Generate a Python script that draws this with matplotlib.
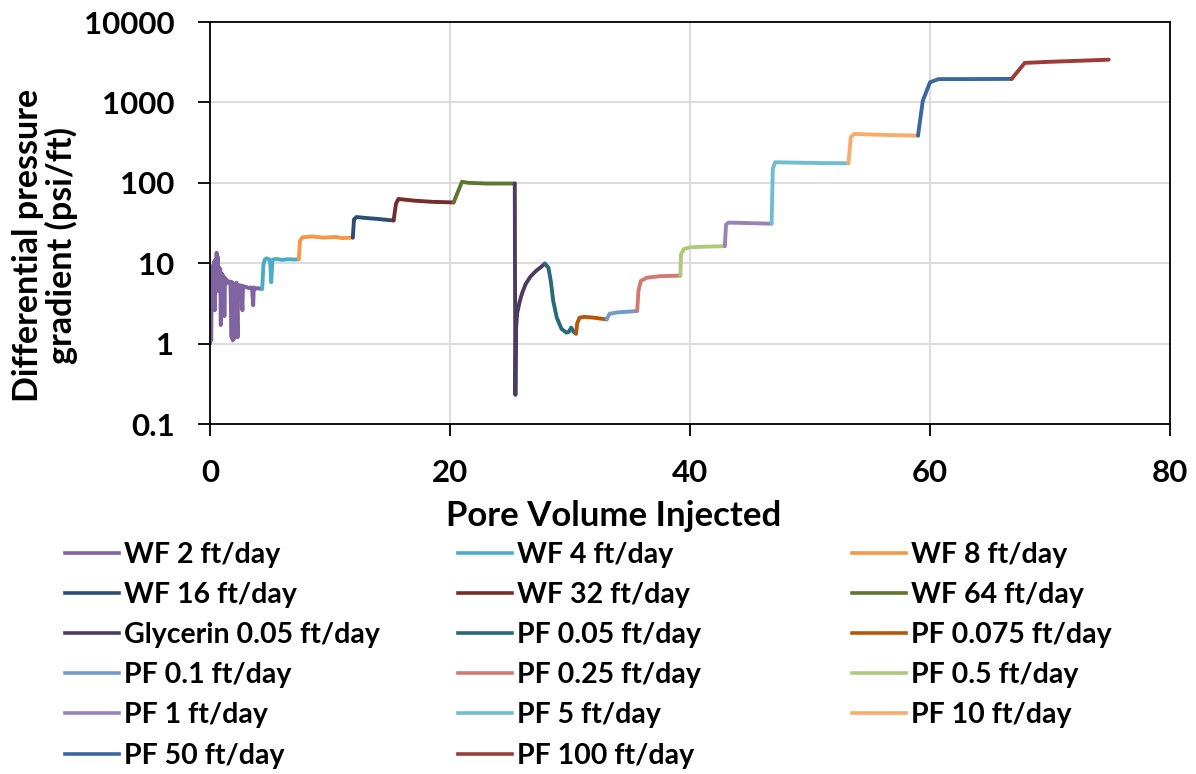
import numpy as np
import matplotlib
matplotlib.use("Agg")
import matplotlib.pyplot as plt
from matplotlib.lines import Line2D

plt.rcParams['font.family'] = ['Lato', 'DejaVu Sans']
plt.rcParams['font.weight'] = 'bold'

# pore volume injected (x) and differential pressure gradient psi/ft (y)
wf2_x = [0.0, 0.05, 0.1, 0.15, 0.2, 0.25, 0.3, 0.35, 0.4, 0.45, 0.5, 0.55, 0.6, 0.65, 0.7,
         0.75, 0.8, 0.85, 0.9, 0.95, 1.0, 1.05, 1.1, 1.15, 1.2, 1.25, 1.3, 1.35, 1.4, 1.5,
         1.6, 1.7, 1.8, 1.85, 1.9, 1.95, 2.0, 2.1, 2.2, 2.3, 2.35, 2.4, 2.5, 2.6, 2.7,
         2.75, 2.8, 2.9, 3.0, 3.2, 3.4, 3.5, 3.6, 3.65, 3.7, 3.8, 4.0, 4.2, 4.35]
wf2_y = [1.0, 2.5, 1.1, 8.5, 4.0, 9.5, 3.0, 10.5, 2.6, 11.0, 7.0, 13.5, 9.0, 12.0, 4.5,
         9.0, 6.0, 8.5, 1.7, 7.5, 6.5, 7.2, 5.0, 6.8, 2.2, 6.5, 5.5, 6.3, 5.8, 6.0,
         5.6, 5.9, 1.2, 5.8, 1.1, 5.6, 1.15, 5.5, 5.7, 1.2, 5.4, 5.3, 5.2, 5.3, 2.6,
         5.1, 5.2, 5.0, 5.1, 4.9, 5.0, 4.8, 3.0, 5.0, 4.9, 4.8, 4.9, 4.8, 4.8]
wf4_x = [4.35, 4.45, 4.55, 4.7, 4.9, 5.0, 5.1, 5.2, 5.3, 5.5, 6.0, 6.5, 7.0, 7.4]
wf4_y = [4.8, 9.5, 11.0, 11.5, 11.2, 11.0, 5.8, 10.8, 11.2, 11.3, 11.0, 11.2, 11.1, 11.2]
wf8_x = [7.4, 7.5, 7.7, 8.5, 9.5, 10.5, 11.0, 11.9]
wf8_y = [11.2, 19.0, 21.0, 21.5, 20.8, 21.2, 20.5, 20.8]
wf16_x = [11.9, 12.0, 12.2, 13.0, 14.0, 14.8, 15.3]
wf16_y = [20.8, 35.0, 37.5, 36.5, 35.5, 34.5, 34.0]
wf32_x = [15.3, 15.5, 15.7, 17.0, 18.5, 20.3]
wf32_y = [34.0, 55.0, 63.0, 60.0, 58.0, 57.0]
wf64_x = [20.3, 21.0, 21.5, 23.0, 25.4]
wf64_y = [57.0, 103.0, 100.0, 98.0, 98.0]
gly_x = [25.4, 25.42, 25.45, 25.5, 25.6, 25.8, 26.0, 26.3, 26.7, 27.2, 27.6, 27.9]
gly_y = [98.0, 5.0, 0.23, 1.5, 2.4, 3.3, 4.2, 5.5, 6.8, 8.1, 9.0, 9.9]
pf005_x = [27.9, 28.2, 28.4, 28.6, 28.9, 29.3, 29.7, 29.9, 30.1, 30.3, 30.5]
pf005_y = [9.9, 8.8, 6.0, 3.4, 2.1, 1.52, 1.37, 1.4, 1.58, 1.4, 1.33]
pf0075_x = [30.5, 30.6, 30.8, 31.2, 32.0, 32.5, 33.05]
pf0075_y = [1.33, 1.8, 2.1, 2.15, 2.1, 2.05, 2.0]
pf01_x = [33.05, 33.3, 34.0, 35.0, 35.6]
pf01_y = [2.0, 2.35, 2.45, 2.5, 2.55]
pf025_x = [35.6, 35.7, 35.9, 36.4, 37.5, 39.2]
pf025_y = [2.55, 4.5, 6.0, 6.6, 6.9, 7.0]
pf05_x = [39.2, 39.25, 39.5, 40.0, 41.0, 42.9]
pf05_y = [7.0, 13.0, 15.0, 15.8, 16.0, 16.3]
pf1_x = [42.9, 43.0, 43.2, 45.0, 46.8]
pf1_y = [16.3, 30.0, 32.0, 31.5, 31.0]
pf5_x = [46.8, 46.9, 47.1, 49.0, 51.0, 53.2]
pf5_y = [31.0, 150.0, 180.0, 178.0, 176.0, 175.0]
pf10_x = [53.2, 53.4, 53.7, 56.0, 59.0]
pf10_y = [175.0, 370.0, 405.0, 395.0, 386.0]
pf50_x = [59.0, 59.4, 60.0, 60.7, 63.0, 66.8]
pf50_y = [386.0, 1050.0, 1780.0, 1950.0, 1950.0, 1960.0]
pf100_x = [66.8, 67.9, 70.0, 72.5, 74.9]
pf100_y = [1960.0, 3100.0, 3200.0, 3300.0, 3400.0]

labels = ["WF 2 ft/day", "WF 4 ft/day", "WF 8 ft/day", "WF 16 ft/day", "WF 32 ft/day",
          "WF 64 ft/day", "Glycerin 0.05 ft/day", "PF 0.05 ft/day", "PF 0.075 ft/day",
          "PF 0.1 ft/day", "PF 0.25 ft/day", "PF 0.5 ft/day", "PF 1 ft/day", "PF 5 ft/day",
          "PF 10 ft/day", "PF 50 ft/day", "PF 100 ft/day"]
colors = ["#8064A2", "#4BACC6", "#F79646", "#2C4D75", "#772C2A", "#5F7530", "#4D3B62",
          "#276A7C", "#B65708", "#729ACA", "#D07A72", "#AFC97A", "#9983B5", "#6FBDD1",
          "#F9AB6B", "#3A67A0", "#9E3B38"]
xs = [wf2_x, wf4_x, wf8_x, wf16_x, wf32_x, wf64_x, gly_x, pf005_x, pf0075_x, pf01_x,
      pf025_x, pf05_x, pf1_x, pf5_x, pf10_x, pf50_x, pf100_x]
ys = [wf2_y, wf4_y, wf8_y, wf16_y, wf32_y, wf64_y, gly_y, pf005_y, pf0075_y, pf01_y,
      pf025_y, pf05_y, pf1_y, pf5_y, pf10_y, pf50_y, pf100_y]

W, H = 1196, 774
fig = plt.figure(figsize=(W / 100, H / 100), dpi=100)
ax = fig.add_axes([210 / W, 1 - 424 / H, 960 / W, 402 / H])

for x, y, c in zip(xs, ys, colors):
    ax.plot(x, y, color=c, lw=2.8, solid_joinstyle='round', solid_capstyle='round')

ax.set_yscale('log')
ax.set_ylim(0.1, 10000)
ax.set_xlim(0, 80)
ax.set_xticks([0, 20, 40, 60, 80])
ax.set_yticks([0.1, 1, 10, 100, 1000, 10000])
ax.set_yticklabels(["0.1", "1", "10", "100", "1000", "10000"])
ax.minorticks_off()
ax.grid(True, color='#D9D9D9', lw=1.3)
ax.set_axisbelow(True)
for s in ax.spines.values():
    s.set_color('black')
    s.set_linewidth(1.3)
ax.tick_params(axis='both', direction='out', length=8.5, width=1.3, labelsize=22.5, pad=17)

fig.text(45 / W, 1 - 245 / H, "Differential pressure\ngradient (psi/ft)", rotation=90,
         ha='center', va='center', fontsize=24.5, fontweight='bold', multialignment='center',
         linespacing=1.05)
fig.text(614 / W, 1 - 516 / H, "Pore Volume Injected", ha='center', va='center',
         fontsize=25, fontweight='bold')

# legend in three columns, filled row by row
col_left = [65, 458, 852]
for ci in range(3):
    idx = list(range(ci, len(labels), 3))
    handles = [Line2D([], [], color=colors[i], lw=2.6) for i in idx]
    leg = fig.legend(handles, [labels[i] for i in idx], loc='upper left',
                     bbox_to_anchor=(col_left[ci] / W, 1 - 541.5 / H), frameon=False,
                     fontsize=20.5, handlelength=1.9, handletextpad=0.18,
                     labelspacing=0.5, borderpad=0, borderaxespad=0)

fig.savefig("out.png", dpi=100)
